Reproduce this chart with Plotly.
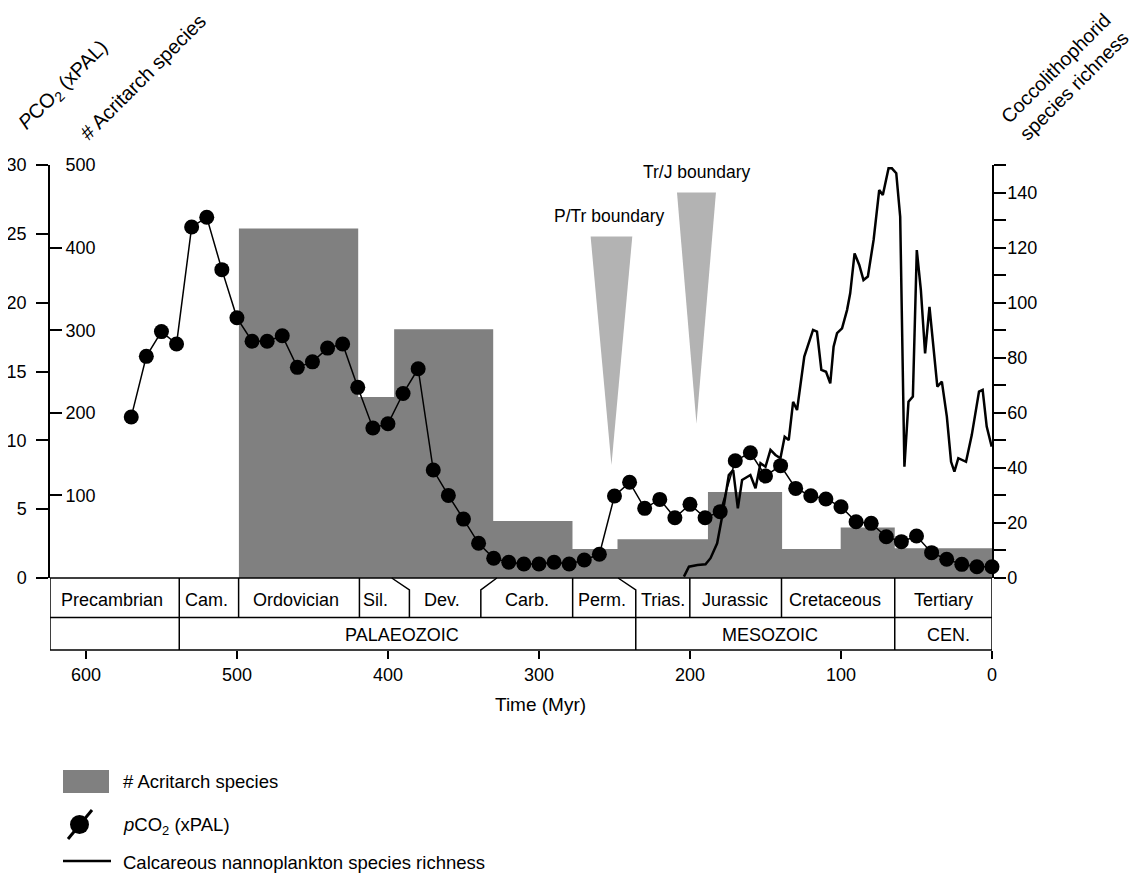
import plotly.graph_objects as go

# ---------------- DATA ----------------
# pCO2 (xPAL), every 10 Myr from 570 Myr to present
pco2_age = list(range(570, -1, -10))
pco2_value = [11.7, 16.1, 17.9, 17.0, 25.5, 26.2, 22.4, 18.9, 17.2, 17.2,
              17.6, 15.3, 15.7, 16.7, 17.0, 13.85, 10.9, 11.2, 13.4, 15.2,
              7.84, 6.0, 4.28, 2.52, 1.43, 1.14, 1.02, 1.02, 1.14, 1.02,
              1.31, 1.72, 5.96, 6.95, 5.06, 5.71, 4.38, 5.35, 4.38, 4.82,
              8.52, 9.1, 7.41, 8.16, 6.51, 5.98, 5.74, 5.18, 4.09, 3.97,
              3.0, 2.64, 3.05, 1.84, 1.36, 0.99, 0.82, 0.82]

# Acritarch species per interval
acr_start = [498.7, 419.7, 395.9, 330.3, 277.8, 248.0, 188.1, 139.0, 100.2, 64.4]
acr_end = [419.7, 395.9, 330.3, 277.8, 248.0, 188.1, 139.0, 100.2, 64.4, 0.0]
acr_species = [423, 219, 301, 69, 35, 47, 104, 35, 61, 36]

# Calcareous nannoplankton (coccolithophorid) species richness
cocco_age = [204, 200.7, 195, 189.7, 186.4, 182, 178.7, 174.3, 171.4, 168.3,
             165.5, 160, 156.6, 153.3, 150, 146.7, 143.4, 140.1, 137.3, 134.6,
             131.7, 129.1, 124.3, 118.5, 115.9, 113, 109.9, 107.1, 104.9, 102.6,
             99.3, 96, 93.9, 91, 87.9, 85.1, 82.2, 78.4, 74.7, 72.3,
             68.5, 66.3, 63.4, 60.8, 58, 55.3, 52.4, 49.8, 47.1, 44.3,
             41.4, 38.8, 36.2, 33.2, 29.9, 27.1, 24.9, 22.3, 17.2, 13.4,
             8.6, 6.2, 3.5, 0.2]
cocco_richness = [0.5, 4.1, 4.7, 5.0, 7.2, 12.6, 22.3, 37.4, 39.2, 25.3,
                  35.6, 37.4, 32.6, 41.7, 40.4, 46.5, 44.7, 43.5, 51.3, 50.1,
                  64, 61, 80.4, 90.1, 89.5, 75.6, 74.9, 70.7, 84, 88.9,
                  90.7, 97.3, 103.4, 117.9, 113.7, 108.2, 109.5, 122.8, 140.9, 139.1,
                  148.8, 148.8, 147, 131.2, 40.4, 64, 65.9, 119.1, 104.6, 81.6,
                  98.5, 82.8, 69.5, 71.3, 58.6, 42.2, 38.6, 43.5, 42.2, 51.9,
                  67.7, 68.3, 55, 47.7]

# Extinction boundaries (apex age, Myr)
boundary_names = ["P/Tr boundary", "Tr/J boundary"]
boundary_ages = [252.0, 195.7]

# Geological time scale
period_names = ["Precambrian", "Cam.", "Ordovician", "Sil.", "Dev.", "Carb.",
                "Perm.", "Trias.", "Jurassic", "Cretaceous", "Tertiary"]
era_names = ["PALAEOZOIC", "MESOZOIC", "CEN."]

pco2_ticks = [0, 5, 10, 15, 20, 25, 30]
acr_ticks = [100, 200, 300, 400, 500]
cocco_ticks = list(range(0, 151, 10))
time_ticks = [600, 500, 400, 300, 200, 100, 0]

# ---------------- FIGURE ----------------
FONT = "Liberation Sans, Arial, sans-serif"
OFF = 8                      # page body margin
W, H = 1140 - OFF, 873 - OFF
PL, PR, PT, PB = 50, 992, 165, 650   # plot area in page pixels
PW, PH = PR - PL, PB - PT
ybot = (PB - 578) / PH       # main panel bottom (page px 578)


def py(y):
    return (PB - y) / PH


def px_(x):
    return (x - PL) / PW


fig = go.Figure()

# Acritarch step histogram (base axis)
bx, by = [], []
for s, e, v in zip(acr_start, acr_end, acr_species):
    bx += [s, e]
    by += [v, v]
fig.add_trace(go.Scatter(
    x=bx, y=by, mode="lines", fill="tozeroy", fillcolor="#808080",
    line=dict(width=0, color="#808080"),
    xaxis="x", yaxis="y", showlegend=False, hoverinfo="skip"))

# Coccolith richness line (right axis)
fig.add_trace(go.Scatter(
    x=cocco_age, y=cocco_richness, mode="lines",
    line=dict(color="black", width=2.5),
    xaxis="x", yaxis="y2", showlegend=False, cliponaxis=False))

# boundary wedges on pCO2 axis
tri_half = [13.8, 12.9]
tri_top = [24.8, 28.0]
tri_bottom = [8.2, 11.2]
for i, age in enumerate(boundary_ages):
    fig.add_trace(go.Scatter(
        x=[age + tri_half[i], age - tri_half[i], age, age + tri_half[i]],
        y=[tri_top[i], tri_top[i], tri_bottom[i], tri_top[i]],
        mode="lines", fill="toself", fillcolor="#b3b3b3",
        line=dict(width=0, color="#b3b3b3"),
        xaxis="x", yaxis="y3", showlegend=False, hoverinfo="skip"))
    fig.add_annotation(x=age + (1.6 if i == 0 else -0.2), y=tri_top[i] + 1.5,
                       xref="x", yref="y3", text=boundary_names[i],
                       showarrow=False, font=dict(size=17.5, family=FONT, color="black"),
                       xanchor="center", yanchor="middle")

# pCO2
fig.add_trace(go.Scatter(
    x=pco2_age, y=pco2_value, mode="lines+markers",
    line=dict(color="black", width=1.5),
    marker=dict(color="black", size=15),
    xaxis="x", yaxis="y3", showlegend=False, cliponaxis=False))

tickfont = dict(size=18, family=FONT, color="black")

fig.update_layout(
    width=W, height=H,
    margin=dict(l=PL - OFF, r=W - (PR - OFF), t=PT - OFF, b=H - (PB - OFF), pad=0),
    paper_bgcolor="white", plot_bgcolor="white",
    font=dict(family=FONT, color="black", size=18),
    xaxis=dict(range=[623.8, 0], anchor="free", position=0, automargin=False,
               tickvals=time_ticks, ticks="outside", ticklen=8, tickwidth=1.5,
               tickcolor="black", showline=False, showgrid=False, zeroline=False,
               tickfont=tickfont),
    yaxis=dict(domain=[ybot, 1], range=[0, 500], side="left", automargin=False,
               tickvals=acr_ticks, ticks="inside", ticklen=12, tickwidth=1.5,
               tickcolor="black", ticklabelposition="inside", ticklabelstandoff=4,
               ticklabeloverflow="allow", showline=False, showgrid=False,
               zeroline=False, tickfont=tickfont),
    yaxis2=dict(overlaying="y", range=[0, 150], side="right", anchor="x",
                automargin=False, tickvals=cocco_ticks,
                ticktext=[str(v) if v % 20 == 0 and v < 150 else "" for v in cocco_ticks],
                ticks="outside", ticklen=12, tickwidth=1.5, tickcolor="black",
                ticklabelstandoff=-2,
                showline=True, linecolor="black", linewidth=1.5,
                showgrid=False, zeroline=False, tickfont=tickfont),
    yaxis3=dict(overlaying="y", range=[0, 30], side="left", anchor="x",
                automargin=False, tickvals=pco2_ticks, ticks="outside",
                ticklen=12, tickwidth=1.5, ticklabelstandoff=6,
                tickcolor="black", showline=True, linecolor="black", linewidth=1.5,
                showgrid=False, zeroline=False, tickfont=tickfont),
)

# ---------------- TIME SCALE BOX ----------------
line = dict(color="black", width=1.5)
row_top = ybot
row_mid = py(617.5)
row_bot = 0.0
bend = py(590)
shapes = []
shapes.append(dict(type="rect", xref="x", yref="paper", x0=623.8, x1=0,
                   y0=row_bot, y1=row_top, line=line, layer="above"))
shapes.append(dict(type="line", xref="x", yref="paper", x0=623.8, x1=0,
                   y0=row_mid, y1=row_mid, line=line, layer="above"))
for t in [498.9, 418.9, 277.7, 200.1, 139.4]:
    shapes.append(dict(type="line", xref="x", yref="paper", x0=t, x1=t,
                       y0=row_mid, y1=row_top, line=line, layer="above"))
for t in [538.2, 64.4]:
    shapes.append(dict(type="line", xref="x", yref="paper", x0=t, x1=t,
                       y0=row_bot, y1=row_top, line=line, layer="above"))
for (tt, tb, yb) in [(397.5, 385.8, row_mid), (327.9, 338.5, row_mid), (247.6, 235.9, row_bot)]:
    shapes.append(dict(type="path", xref="x", yref="paper",
                       path=f"M {tt},{row_top} L {tb},{bend} L {tb},{yb}",
                       line=line, layer="above"))

period_label_age = [583, 520, 460.6, 408, 364.4, 307.7, 258, 217.8, 170.5, 104.1, 32.4]
for name, t in zip(period_names, period_label_age):
    fig.add_annotation(x=t, y=py(600), xref="x", yref="paper", text=name,
                       showarrow=False, font=dict(size=18, family=FONT, color="black"),
                       xanchor="center", yanchor="middle")
era_label_age = [390.5, 146.7, 29.1]
for name, t in zip(era_names, era_label_age):
    fig.add_annotation(x=t, y=py(635), xref="x", yref="paper", text=name,
                       showarrow=False, font=dict(size=18, family=FONT, color="black"),
                       xanchor="center", yanchor="middle")

# ---------------- TITLES ----------------
def title(text, x, y, angle=0, size=18, align="center"):
    fig.add_annotation(x=px_(x), y=py(y), xref="paper", yref="paper", text=text,
                       textangle=angle, align=align, showarrow=False,
                       xanchor="center", yanchor="middle",
                       font=dict(size=size, family=FONT, color="black"))


title("Time (Myr)", 540, 704, size=19)
title("<i>P</i>CO<sub>2</sub> (xPAL)", 64, 86, -45, size=20)
title("# Acritarch species", 143, 77, -45, size=20)
title("Coccolithophorid<br>species richness", 1065, 77, -45, size=19.5, align="right")

# ---------------- LEGEND (manual) ----------------
shapes.append(dict(type="rect", xref="paper", yref="paper",
                   x0=px_(63), x1=px_(109), y0=py(793), y1=py(770),
                   fillcolor="#808080", line=dict(width=0)))
shapes.append(dict(type="line", xref="paper", yref="paper",
                   x0=px_(68), x1=px_(92), y0=py(839), y1=py(810),
                   line=dict(color="black", width=3)))
shapes.append(dict(type="circle", xref="paper", yref="paper",
                   x0=px_(70), x1=px_(89), y0=py(834), y1=py(815),
                   fillcolor="black", line=dict(width=0)))
shapes.append(dict(type="line", xref="paper", yref="paper",
                   x0=px_(63), x1=px_(111), y0=py(861), y1=py(861),
                   line=dict(color="black", width=2.5)))
legend_texts = ["# Acritarch species", "<i>p</i>CO<sub>2</sub> (xPAL)",
                "Calcareous nannoplankton species richness"]
for txt, yy in zip(legend_texts, [781, 826, 862]):
    fig.add_annotation(x=px_(121), y=py(yy), xref="paper", yref="paper", text=txt,
                       showarrow=False, xanchor="left", yanchor="middle",
                       font=dict(size=18.5, family=FONT, color="black"))

fig.update_layout(shapes=shapes)
fig.write_html("out.html")
